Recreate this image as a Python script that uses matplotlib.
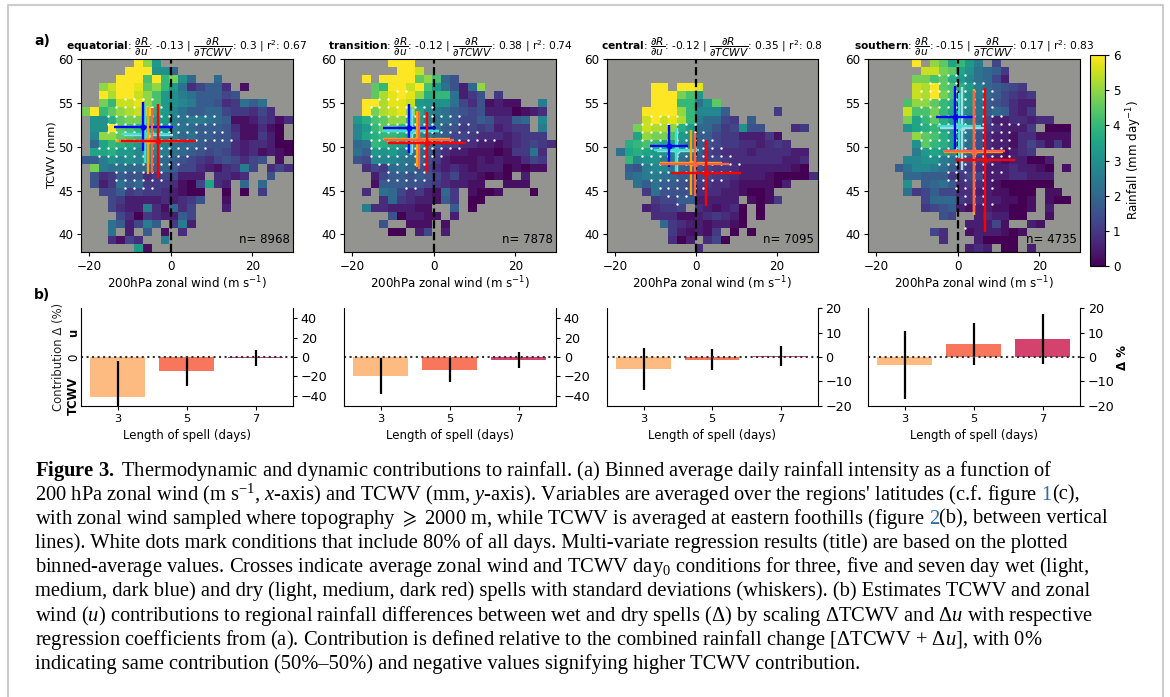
#!/usr/bin/env python3
"""
Thermodynamic and dynamic contributions to rainfall
Binned rainfall in wind/TCWV space plus bars of the wet-dry contributions
"""

import numpy as np
import matplotlib
matplotlib.use("Agg")
import matplotlib.pyplot as plt

W, H = 1170, 697

plt.rcParams['font.family'] = 'DejaVu Sans'
plt.rcParams['mathtext.rm'] = 'Liberation Serif'
plt.rcParams['mathtext.it'] = 'Liberation Serif:italic'
plt.rcParams['mathtext.bf'] = 'Liberation Serif:bold'
plt.rcParams['mathtext.fallback'] = 'stix'

# Binned rainfall, top row (TCWV 60) first. One letter per bin, a=0 to y=6 mm/day in
# quarter steps, '.' is an empty bin.
heat_equatorial = [
    "......yun...............",
    ".....yyymmi.............",
    "....yyyryqtmi..i........",
    "..uwyyxsuqnjdfhhd.b.....",
    "..yvyywurnmkjhhhfg......",
    "..tqwwxurnmlkhhgdejhj...",
    "tyqsuvwxpnljhhiifeedfd..",
    ".mmpsttqnnkjkkjihbbcedbd",
    ".mmysrqonmkjihhhgdbbdba.",
    ".luusrqpmlkijhhggebbeca.",
    ".ioqponmmkjiihgggdcddcaa",
    ".oopnnlmlkjihgfgfdcdbcba",
    "hhkmlmlljihgfedfgfdfg.b.",
    ".tkjjiiihihffdcbdekf.dfd",
    ".gdehggdeffccc.ddcd..g..",
    ".gcejhieeedbafodc.i.i...",
    "..ffhefeedcbaa..a.a.e...",
    "...feccccdcdeg..b.......",
    "...fdcckdbidf...c.......",
    "....fdaedcchf...........",
    "...jhcfkh.ekc...........",
    "...j.c.h.b.d............",
    "...dbfd..k..............",
    "......nb................",
]
heat_transition = [
    ".....yyy................",
    "......yyw...............",
    "..y.yyyysurig...........",
    "...sqyywyrnjgciu........",
    "...svxyxupqqjceg.e......",
    "..yyvxxwnmmmjfdgbcbb..k.",
    "..ytvwxuolkjhgfgcccabcd.",
    ".nprsuuqnkjjhffhgddhi.l.",
    ".lnqssqomkjhgefefcdee.k.",
    ".lopqqpnlkihffedddcdeee.",
    ".ijqponmljhffddccbcdefed",
    ".jhnmnljihfdccbbbabeejd.",
    ".gflllkjigecbbbcbcbbdfe.",
    "..dfeijigfdcdcbcccababb.",
    "...cfhhghgfdfccbaba.c...",
    "...bhhhggfedccbb..bbb...",
    "..d.jifdecbie.baab...a..",
    "....diedccbhe.aa........",
    "..kddcccbb..h.a.........",
    ".....gaccbb.c...........",
    "....g..bbb.b............",
    ".....aa.cf.c............",
    "........................",
    "........................",
]
heat_central = [
    "........................",
    "........................",
    "........................",
    ".....yy.yyx.............",
    ".....yyytrn.............",
    ".....yyyqqjms...........",
    "....yyyyuqlllh.....e....",
    "....wywxvqkiife.h.......",
    "...twvvupniigefmgg...de.",
    "...outtrnmhhfeeccceb....",
    "..pqrqonmkhgfeeddcded...",
    ".joponmlkjhfedddcddddcc.",
    "..qlmmkkjhgffeddddddccd.",
    "..hgklljihgfeedccccccba.",
    "..ijkkjihhffeedcccbaaaad",
    "...jhjhhgfeeddcbbbbac...",
    "....ejggggdddccbaab.....",
    ".....effhhccccc.babe....",
    "....cdeef.dcbcda.a......",
    ".....dddbbcdedca.a......",
    "......iedccbccba........",
    ".......ecbcbe.a.a.......",
    ".......dac.dfa..........",
    "..........d.............",
]
heat_southern = [
    ".....y.usoqnk.f.........",
    "......wwtsomjihe........",
    ".....ttrspnljifc........",
    ".....wvysrpnkihgfe......",
    ".....wvytromkihfede.....",
    "....ruusqpnmjhgfdcc.....",
    "....wrrtqomljhihdce.....",
    "....toqspnmkifccddcdd...",
    "....mopqomljhedccce.aaa.",
    ".....usrpnljgdccbddbbbb.",
    ".....msqpnligdccbdfdbeb.",
    ".....knonljhfdcbcde.....",
    "....llmmkjhfedcbccaac...",
    "...hjllkjhfedcccdccba.b.",
    "....iihhheeffcccddccc...",
    "....m.hijhdedcbaaaaaa...",
    "....jefhffddccbbaaa.bb..",
    "......fiiieddccbbab.baa.",
    "......efghcbccbbaab.c...",
    "........gf..cdccaa..b...",
    "...........cccfb..cb....",
    ".......fd..bcccbab......",
    "........d...caaaa.......",
    "...........cdc.aa.c.....",
]

# White dots, (row edge, first column edge, last column edge)
dots_equatorial = [(5, 5, 8), (6, 4, 9), (7, 3, 15), (8, 3, 15), (9, 3, 16), (10, 4, 17),
                   (11, 2, 14), (12, 2, 12), (13, 4, 11), (14, 4, 9), (15, 4, 9), (16, 5, 8)]
dots_transition = [(4, 6, 7), (5, 4, 6), (6, 3, 10), (7, 3, 13), (8, 3, 14), (9, 3, 15), (10, 3, 17),
                    (11, 3, 13), (12, 3, 11), (13, 4, 9), (14, 5, 9), (15, 5, 9), (16, 7, 8)]
dots_central = [(7, 5, 8), (8, 4, 10), (9, 4, 11), (10, 4, 12), (11, 4, 13), (12, 4, 14), (13, 4, 15),
                (14, 5, 14), (15, 5, 13), (16, 6, 11), (17, 7, 9), (18, 8, 8)]
dots_southern = [(2, 8, 11), (3, 7, 13), (4, 6, 14), (5, 6, 14), (6, 6, 14), (7, 6, 15), (8, 6, 17),
                 (9, 6, 16), (10, 6, 16), (11, 6, 16), (12, 7, 16), (13, 8, 14), (14, 9, 15),
                 (15, 9, 14), (16, 10, 14), (17, 11, 13), (18, 11, 14), (21, 11, 11)]

# Crosses: light, medium, dark blue then light, medium, dark red
cross_colors = ['lightblue', 'turquoise', 'blue', 'orange', 'tomato', 'red']
u_equatorial = [-5.5, -6.2, -6.7, -5.6, -4.7, -3.0]
t_equatorial = [51.4, 51.5, 52.3, 50.7, 50.7, 50.7]
uerr_equatorial = [6.0, 6.0, 7.2, 8.0, 8.0, 9.3]
terr_equatorial = [3.3, 3.3, 2.8, 3.8, 3.7, 4.2]
u_transition = [-5.2, -5.6, -6.0, -4.2, -3.5, -1.6]
t_transition = [51.8, 51.8, 52.1, 50.9, 50.8, 50.5]
uerr_transition = [6.5, 7.0, 6.5, 8.3, 8.6, 9.5]
terr_transition = [2.5, 2.7, 2.8, 3.2, 3.3, 3.5]
u_central = [-4.7, -4.9, -6.7, -1.3, -0.3, 2.4]
t_central = [49.5, 49.6, 50.1, 48.2, 48.0, 47.0]
uerr_central = [5.0, 5.6, 4.6, 7.6, 8.5, 8.6]
terr_central = [2.6, 2.6, 2.4, 3.7, 3.6, 3.8]
u_southern = [1.1, 0.3, -0.6, 3.9, 4.0, 6.7]
t_southern = [52.1, 52.4, 53.4, 49.4, 49.5, 48.5]
uerr_southern = [5.4, 5.4, 4.8, 7.3, 7.5, 7.3]
terr_southern = [4.7, 3.7, 3.6, 7.2, 6.9, 8.2]

names = ['equatorial', 'transition', 'central', 'southern']
coef_u = ['-0.13', '-0.12', '-0.12', '-0.15']
coef_t = ['0.3', '0.38', '0.35', '0.17']
r2 = ['0.67', '0.74', '0.8', '0.83']
counts = [8968, 7878, 7095, 4735]

# Lower row
spell_days = [3, 5, 7]
bar_colors = ['#febb81', '#f8765c', '#d3436e']
bars_equatorial = [-41.4, -14.5, -1.0]
err_equatorial = [37.5, 15.5, 8.0]
bars_transition = [-19.5, -13.5, -3.0]
err_transition = [18.5, 12.0, 8.0]
bars_central = [-4.9, -1.2, 0.3]
err_central = [8.5, 4.3, 4.1]
bars_southern = [-3.3, 5.3, 7.4]
err_southern = [13.8, 8.6, 10.3]
bar_limits = [50, 50, 20, 20]
bar_ticks = [[-40, -20, 0, 20, 40], [-40, -20, 0, 20, 40], [-20, -10, 0, 10, 20], [-20, -10, 0, 10, 20]]

# Caption lines, colored references are split out as their own segments
BLUE = '#2b6cb0'
caption = [
    [(r"$\mathbf{Figure\ 3.}$ Thermodynamic and dynamic contributions to rainfall. (a) Binned average daily rainfall intensity as a function of", 'k')],
    [(r"200 hPa zonal wind (m s$^{-1}$, $\mathit{x}$-axis) and TCWV (mm, $\mathit{y}$-axis). Variables are averaged over the regions' latitudes (c.f. figure ", 'k'), ("1", BLUE), ("(c),", 'k')],
    [(r"with zonal wind sampled where topography $\geqslant$ 2000 m, while TCWV is averaged at eastern foothills (figure ", 'k'), ("2", BLUE), ("(b), between vertical", 'k')],
    [("lines). White dots mark conditions that include 80% of all days. Multi-variate regression results (title) are based on the plotted", 'k')],
    [(r"binned-average values. Crosses indicate average zonal wind and TCWV day$_0$ conditions for three, five and seven day wet (light,", 'k')],
    [("medium, dark blue) and dry (light, medium, dark red) spells with standard deviations (whiskers). (b) Estimates TCWV and zonal", 'k')],
    [(r"wind ($\mathit{u}$) contributions to regional rainfall differences between wet and dry spells ($\Delta$) by scaling $\Delta$TCWV and $\Delta\mathit{u}$ with respective", 'k')],
    [(r"regression coefficients from (a). Contribution is defined relative to the combined rainfall change [$\Delta$TCWV + $\Delta\mathit{u}$], with 0%", 'k')],
    [("indicating same contribution (50%–50%) and negative values signifying higher TCWV contribution.", 'k')],
]


def px_axes(fig, left, top, right, bottom):
    """Axes from pixel edges, measured from the top left of the figure"""
    return fig.add_axes([left / W, 1 - bottom / H, (right - left) / W, (bottom - top) / H])


def decode(rows):
    grid = np.full((len(rows), len(rows[0])), np.nan)
    for i, row in enumerate(rows):
        for j, ch in enumerate(row):
            if ch != '.':
                grid[i, j] = (ord(ch) - ord('a')) * 0.25
    return grid


def draw_heat(ax, idx, rows, dots, us, ts, uerr, terr):
    xedges = np.linspace(-22, 30, 25)
    yedges = np.linspace(60, 38, 25)
    ax.set_facecolor('#93938f')
    mesh = ax.pcolormesh(xedges, yedges, decode(rows), cmap='viridis', vmin=0, vmax=6)
    ax.axvline(0, color='k', ls='--', lw=1.6)

    # Dots sit on the bin corners
    for row, first, last in dots:
        cols = np.arange(first, last + 1)
        ax.scatter(xedges[cols], np.full(len(cols), yedges[row]), s=3, c='white', lw=0, zorder=3)

    for k in range(6):
        ax.errorbar(us[k], ts[k], xerr=uerr[k], yerr=terr[k], color=cross_colors[k], marker='o', ms=3.2,
                    elinewidth=1.7, capsize=0, zorder=4 + k)

    ax.set_xlim(-22, 30)
    ax.set_ylim(38, 60)
    ax.set_xticks([-20, 0, 20])
    ax.set_yticks([40, 45, 50, 55, 60])
    ax.tick_params(labelsize=8.6, length=3.2, width=0.8, pad=2.5)
    ax.set_xlabel(r'200hPa zonal wind (m s$^{-1}$)', fontsize=8.6, labelpad=1)
    title = (r"$\bf{" + names[idx] + r"}$: $\dfrac{\partial R}{\partial u}$: " + coef_u[idx]
             + r" | $\dfrac{\partial R}{\partial TCWV}$: " + coef_t[idx] + r" | r$^{2}$: " + r2[idx])
    ax.set_title(title, fontsize=7.7, pad=1.2)
    ax.text(0.985, 0.03, f"n= {counts[idx]}", transform=ax.transAxes, ha='right', va='bottom', fontsize=8.5)
    return mesh


def draw_bars(ax, values, errors, limit, ticks):
    ax.bar(spell_days, values, width=1.6, color=bar_colors)
    ax.errorbar(spell_days, values, yerr=errors, fmt='none', ecolor='k', elinewidth=1.6)
    ax.axhline(0, color='#333333', ls=':', lw=1.5)
    ax.set_xlim(1.93, 8.08)
    ax.set_ylim(-limit, limit)
    ax.set_xticks(spell_days)
    ax.set_yticks(ticks)
    ax.yaxis.tick_right()
    ax.spines['top'].set_visible(False)
    ax.tick_params(axis='x', labelsize=8.2, length=3.2, width=0.8, pad=2.5)
    ax.tick_params(axis='y', labelsize=9.2, length=3.2, width=0.8, pad=2.5)
    ax.set_xlabel('Length of spell (days)', fontsize=8.5, labelpad=4)


def draw_caption(fig, renderer):
    y = 471
    for line in caption:
        x = 35
        for seg, color in line:
            fig.text(x / W, 1 - y / H, seg, color=color, fontsize=CAPTION_SIZE, va='center',
                     family='Liberation Serif', math_fontfamily='custom')
            # a bar after the segment keeps the trailing space in the measure
            probe = fig.text(0, 0, seg + '|', fontsize=CAPTION_SIZE, family='Liberation Serif', math_fontfamily='custom')
            bar = fig.text(0, 0, '|', fontsize=CAPTION_SIZE, family='Liberation Serif', math_fontfamily='custom')
            x += probe.get_window_extent(renderer).width - bar.get_window_extent(renderer).width
            probe.remove()
            bar.remove()
        y += 24.1


CAPTION_SIZE = 14.8

fig = plt.figure(figsize=(W / 100, H / 100), dpi=100)

heat_left = [81, 344, 607, 868]
heat_right = [293, 556, 817.5, 1080]

heat_sets = [
    (heat_equatorial, dots_equatorial, u_equatorial, t_equatorial, uerr_equatorial, terr_equatorial),
    (heat_transition, dots_transition, u_transition, t_transition, uerr_transition, terr_transition),
    (heat_central, dots_central, u_central, t_central, uerr_central, terr_central),
    (heat_southern, dots_southern, u_southern, t_southern, uerr_southern, terr_southern),
]
bar_sets = [
    (bars_equatorial, err_equatorial),
    (bars_transition, err_transition),
    (bars_central, err_central),
    (bars_southern, err_southern),
]

for i in range(4):
    ax = px_axes(fig, heat_left[i], 59.3, heat_right[i], 252)
    mesh = draw_heat(ax, i, *heat_sets[i])
    if i == 0:
        ax.set_ylabel('TCWV (mm)', fontsize=8.2, labelpad=1)

    ax2 = px_axes(fig, heat_left[i], 308.3, heat_right[i], 405.7)
    draw_bars(ax2, bar_sets[i][0], bar_sets[i][1], bar_limits[i], bar_ticks[i])

# Colorbar
cax = px_axes(fig, 1090, 55, 1105, 266)
cbar = fig.colorbar(mesh, cax=cax)
cbar.set_ticks([0, 1, 2, 3, 4, 5, 6])
cbar.ax.tick_params(labelsize=8.6, length=3.2, width=0.8, pad=2.5)
cbar.set_label(r'Rainfall (mm day$^{-1}$)', fontsize=8.6, labelpad=3)

# Panel letters and side labels
fig.text(34 / W, 1 - 41 / H, 'a)', fontsize=10, fontweight='bold', va='center')
fig.text(34 / W, 1 - 295 / H, 'b)', fontsize=10, fontweight='bold', va='center')
fig.text(58.5 / W, 1 - 357 / H, 'Contribution Δ (%)', rotation=90, fontsize=8.4, color='#222222', ha='center', va='center')
fig.text(73.5 / W, 1 - 333 / H, 'u', rotation=90, fontsize=8.4, fontweight='bold', ha='center', va='center')
fig.text(73.5 / W, 1 - 357 / H, '0', rotation=90, fontsize=8.4, ha='center', va='center')
fig.text(73.5 / W, 1 - 396 / H, 'TCWV', rotation=90, fontsize=8.4, fontweight='bold', ha='center', va='center')
fig.text(1123 / W, 1 - 357 / H, 'Δ %', rotation=90, fontsize=8.5, fontweight='bold', ha='center', va='center')

# Journal page frame, open at the bottom
fig.add_artist(plt.Line2D([7.5 / W, 7.5 / W, 1163 / W, 1163 / W], [0, 1 - 5 / H, 1 - 5 / H, 0],
                          color='#cccccc', lw=1.5))

draw_caption(fig, fig.canvas.get_renderer())

fig.savefig('out.png', dpi=100)
